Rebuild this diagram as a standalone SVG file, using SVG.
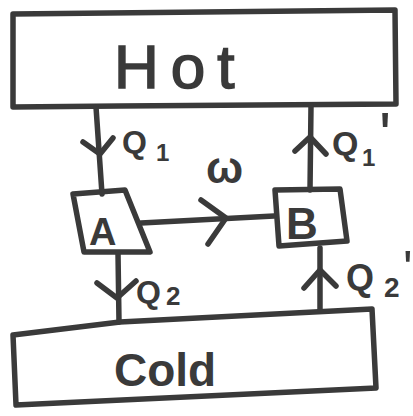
<svg xmlns="http://www.w3.org/2000/svg" width="413" height="416" viewBox="0 0 413 416">
  <style>
    .ink { fill: none; stroke: #3a3a3a; stroke-width: 5.5; stroke-linecap: round; stroke-linejoin: round; }
    .lbl { fill: #3a3a3a; font-family: "Liberation Sans", "DejaVu Sans", sans-serif; font-weight: bold; }
    .big { font-size: 62px; letter-spacing: 12px; font-weight: normal; stroke: #3a3a3a; stroke-width: 1.6; }
    .mid { font-size: 46px; }
    .q { font-size: 32px; }
    .sub { font-size: 24px; }
    .prime { font-weight: normal; }
  </style>
  <rect width="413" height="416" fill="#ffffff"/>

  <!-- hot reservoir -->
  <g id="hot">
    <path class="ink" d="M13,14 L395,10 L396,104 L120,106 L13,107 Z"/>
    <text class="lbl big" x="114" y="88">Hot</text>
  </g>

  <!-- cold reservoir -->
  <g id="cold">
    <path class="ink" d="M13,335 L120,322 L372,309 L376,388 L16,405 Z"/>
    <text class="lbl mid" x="114" y="386">Cold</text>
  </g>

  <!-- engine A -->
  <g id="engineA">
    <path class="ink" d="M73,194 L125,190 L150,252 L84,252 Z"/>
    <text class="lbl" x="89" y="245" style="font-size:38px">A</text>
  </g>

  <!-- engine B -->
  <g id="engineB">
    <path class="ink" d="M275,190 L340,189 L347,241 L279,246 Z"/>
    <text class="lbl" x="286" y="239" style="font-size:44px">B</text>
  </g>

  <!-- heat and work flows -->
  <g id="connectors">
    <!-- Q1: hot to A -->
    <path class="ink" d="M96,107 L102,194"/>
    <path class="ink" d="M83,142 L100,154 L113,138"/>
    <!-- Q2: A to cold -->
    <path class="ink" d="M118,253 L119,322"/>
    <path class="ink" d="M97,283 L117,298 L136,281"/>
    <!-- W: A to B -->
    <path class="ink" d="M141,223 L274,216"/>
    <path class="ink" d="M201,200 L226,218 L208,244"/>
    <!-- Q1': B to hot -->
    <path class="ink" d="M310,190 L311,106"/>
    <path class="ink" d="M295,151 L310,137 L326,154"/>
    <!-- Q2': cold to B -->
    <path class="ink" d="M320,310 L320,248"/>
    <path class="ink" d="M304,288 L320,270 L336,286"/>
  </g>

  <!-- flow labels -->
  <g id="labels">
    <text class="lbl q" x="122" y="153">Q</text>
    <text class="lbl sub" x="156" y="161">1</text>
    <text class="lbl" x="206" y="183" style="font-size:44px">ω</text>
    <text class="lbl q" x="332" y="155" style="font-size:34px">Q</text>
    <text class="lbl sub" x="362" y="166">1</text>
    <text class="lbl prime" x="379" y="158" style="font-size:64px">'</text>
    <text class="lbl q" x="136" y="303">Q</text>
    <text class="lbl sub" x="166" y="305" style="font-size:26px">2</text>
    <text class="lbl q" x="346" y="290" style="font-size:36px">Q</text>
    <text class="lbl sub" x="384" y="297" style="font-size:28px">2</text>
    <text class="lbl prime" x="403" y="286" style="font-size:50px">'</text>
  </g>
</svg>
